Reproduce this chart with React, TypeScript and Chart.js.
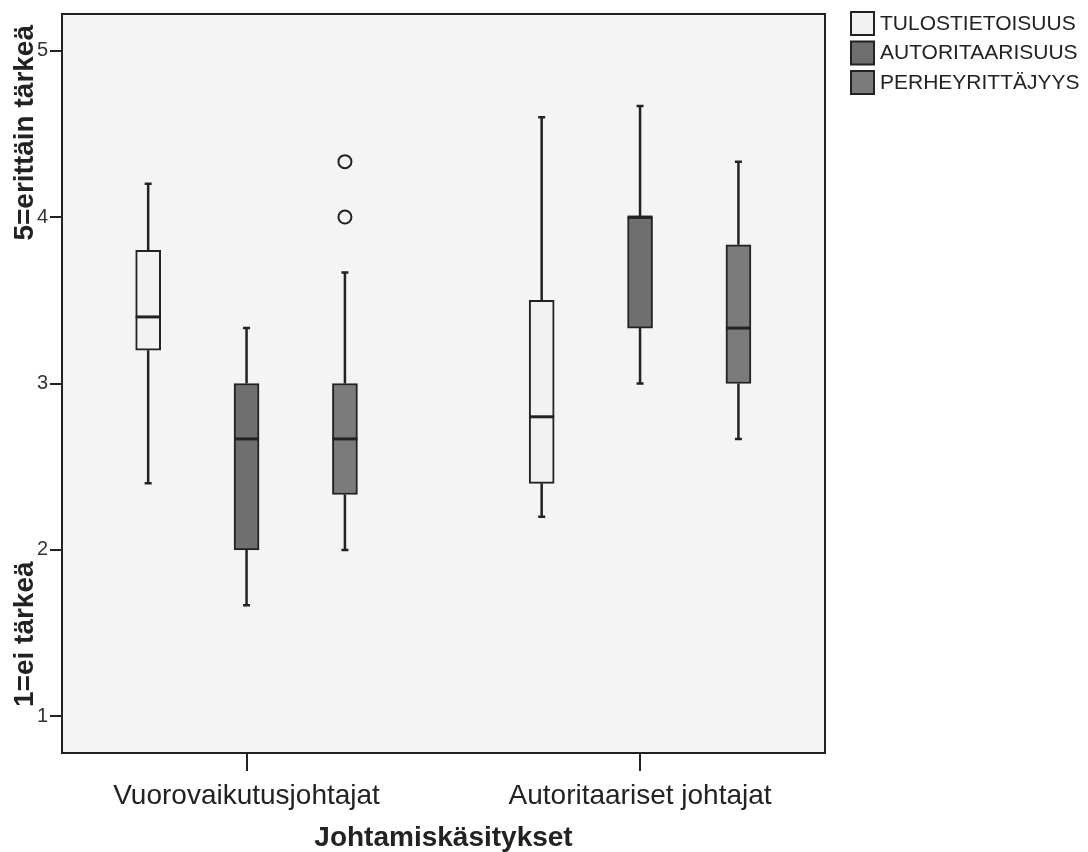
import React, { useEffect, useRef } from "react";
import { Chart, registerables } from "chart.js";

Chart.register(...registerables);

// ---------- data ----------
const categories = ["Vuorovaikutusjohtajat", "Autoritaariset johtajat"];
const seriesLabels = ["TULOSTIETOISUUS", "AUTORITAARISUUS", "PERHEYRITTÄJYYS"];
// each entry: [min, q1, median, q3, max] per category
const tulostietoisuus = [
  [2.4, 3.2, 3.4, 3.8, 4.2],
  [2.2, 2.4, 2.8, 3.5, 4.6],
];
const autoritaarisuus = [
  [1.667, 2.0, 2.667, 3.0, 3.333],
  [3.0, 3.333, 4.0, 4.0, 4.667],
];
const perheyrittajyys = [
  [2.0, 2.333, 2.667, 3.0, 3.667],
  [2.667, 3.0, 3.333, 3.833, 4.333],
];
const perheOutliers = [[4.0, 4.333], []];
const yTicks = [1, 2, 3, 4, 5];
const xTitle = "Johtamiskäsitykset";
const yTitleLow = "1=ei tärkeä";
const yTitleHigh = "5=erittäin tärkeä";

// ---------- styles / layout ----------
const seriesData = [tulostietoisuus, autoritaarisuus, perheyrittajyys];
const seriesColors = ["#f2f2f2", "#6f6f6f", "#7b7b7b"];
const seriesOffsets = [-0.25, 0, 0.25];
const outlierSeries = 2;
const FONT = "'Liberation Sans', Arial, sans-serif";
const INK = "#222222";
const PLOT_BG = "#f4f4f4";

const boxPlugin = {
  id: "boxExtras",
  beforeDraw(chart: any) {
    const { ctx, chartArea: a } = chart;
    ctx.save();
    ctx.fillStyle = PLOT_BG;
    ctx.fillRect(a.left, a.top, a.right - a.left, a.bottom - a.top);
    ctx.restore();
  },
  afterDatasetsDraw(chart: any) {
    const { ctx } = chart;
    const xs = chart.scales.x;
    const ys = chart.scales.y;
    ctx.save();
    ctx.strokeStyle = INK;
    ctx.lineCap = "butt";
    seriesData.forEach((series, s) => {
      series.forEach((st, i) => {
        const [mn, q1, md, q3, mx] = st;
        const cx = xs.getPixelForValue(i + seriesOffsets[s]);
        const half = 12.5;
        // whiskers
        ctx.lineWidth = 2.5;
        ctx.beginPath();
        ctx.moveTo(cx, ys.getPixelForValue(mn));
        ctx.lineTo(cx, ys.getPixelForValue(q1));
        ctx.moveTo(cx, ys.getPixelForValue(q3));
        ctx.lineTo(cx, ys.getPixelForValue(mx));
        ctx.stroke();
        // caps
        ctx.lineWidth = 2.5;
        ctx.beginPath();
        ctx.moveTo(cx - 3.5, ys.getPixelForValue(mn));
        ctx.lineTo(cx + 3.5, ys.getPixelForValue(mn));
        ctx.moveTo(cx - 3.5, ys.getPixelForValue(mx));
        ctx.lineTo(cx + 3.5, ys.getPixelForValue(mx));
        ctx.stroke();
        // median
        ctx.lineWidth = 3;
        ctx.beginPath();
        ctx.moveTo(cx - half, ys.getPixelForValue(md));
        ctx.lineTo(cx + half, ys.getPixelForValue(md));
        ctx.stroke();
      });
    });
    ctx.restore();
  },
  afterDraw(chart: any) {
    const { ctx, chartArea: a } = chart;
    ctx.save();
    // frame
    ctx.strokeStyle = INK;
    ctx.lineWidth = 2;
    ctx.strokeRect(a.left, a.top, a.right - a.left, a.bottom - a.top);
    // y title (two parts, rotated)
    ctx.fillStyle = INK;
    ctx.font = `bold 28px ${FONT}`;
    ctx.textBaseline = "alphabetic";
    ctx.save();
    ctx.translate(33, 0);
    ctx.rotate(-Math.PI / 2);
    ctx.textAlign = "left";
    ctx.fillText(yTitleLow, -707, 0);
    ctx.textAlign = "right";
    ctx.fillText(yTitleHigh, -25, 0);
    ctx.restore();
    // legend
    ctx.font = `21px ${FONT}`;
    ctx.textAlign = "left";
    ctx.textBaseline = "middle";
    seriesLabels.forEach((lab, s) => {
      const top = 12 + s * 29.5;
      ctx.fillStyle = seriesColors[s];
      ctx.fillRect(851, top, 23, 23);
      ctx.strokeStyle = INK;
      ctx.lineWidth = 2;
      ctx.strokeRect(851, top, 23, 23);
      ctx.fillStyle = INK;
      ctx.fillText(lab, 880, top + 12);
    });
    ctx.restore();
  },
};

export default function App() {
  const ref = useRef<HTMLCanvasElement | null>(null);

  useEffect(() => {
    if (!ref.current) return;
    const datasets: any[] = seriesLabels.map((lab, s) => ({
      type: "bar",
      label: lab,
      data: categories.map((_, i) => ({
        x: i + seriesOffsets[s],
        y: [seriesData[s][i][1], seriesData[s][i][3]],
      })),
      backgroundColor: seriesColors[s],
      borderColor: INK,
      borderWidth: 2,
      borderSkipped: false,
      barThickness: 25,
      grouped: false,
    }));
    datasets.push({
      type: "scatter",
      label: "outliers",
      data: perheOutliers.flatMap((vals, i) =>
        vals.map((v) => ({ x: i + seriesOffsets[outlierSeries], y: v }))
      ),
      pointStyle: "circle",
      pointRadius: 6.5,
      pointBorderWidth: 2,
      pointBorderColor: INK,
      pointBackgroundColor: "rgba(0,0,0,0)",
      showLine: false,
    });

    const chart = new Chart(ref.current, {
      type: "bar",
      data: { datasets },
      plugins: [boxPlugin],
      options: {
        animation: false,
        responsive: false,
        devicePixelRatio: 1,
        layout: { padding: { left: 0, top: 10, right: 263, bottom: 0 } },
        plugins: { legend: { display: false }, tooltip: { enabled: false } },
        scales: {
          x: {
            type: "linear",
            offset: false,
            min: -0.469,
            max: 1.47,
            afterBuildTicks: (s: any) => {
              s.ticks = categories.map((_, i) => ({ value: i }));
            },
            afterFit: (s: any) => {
              s.height = 99;
            },
            ticks: {
              callback: (v: any) => categories[v] ?? "",
              font: { family: FONT, size: 28 },
              color: INK,
              padding: 8,
              maxRotation: 0,
              autoSkip: false,
            },
            grid: {
              offset: false,
              drawOnChartArea: false,
              tickLength: 18,
              lineWidth: 2,
              color: INK,
            },
            border: { display: false },
            title: {
              display: true,
              text: xTitle,
              font: { family: FONT, size: 28, weight: "bold", lineHeight: 1 },
              color: INK,
              padding: { top: 0, bottom: 0 },
            },
          },
          y: {
            type: "linear",
            min: 0.78,
            max: 5.22,
            afterBuildTicks: (s: any) => {
              s.ticks = yTicks.map((v) => ({ value: v }));
            },
            afterFit: (s: any) => {
              s.width = 62;
            },
            ticks: {
              font: { family: FONT, size: 20 },
              color: "#333333",
              padding: 2,
            },
            grid: {
              drawOnChartArea: false,
              tickLength: 12,
              lineWidth: 2,
              color: INK,
            },
            border: { display: false },
          },
        },
      } as any,
    });
    return () => chart.destroy();
  }, []);

  return (
    <div style={{ position: "fixed", left: 0, top: 0, width: 1088, height: 852, background: "#fff" }}>
      <canvas ref={ref} width={1088} height={852} style={{ display: "block" }} />
    </div>
  );
}
